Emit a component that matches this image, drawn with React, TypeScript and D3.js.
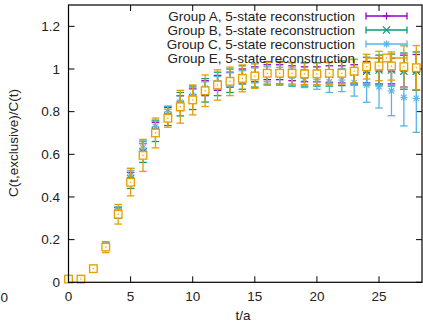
import React from "react";
import * as d3 from "d3";

const tValues = d3.range(0, 29);

const groupA = [0.015, 0.015, 0.065, 0.17, 0.33, 0.49, 0.62, 0.72, 0.79, 0.84, 0.875, 0.91, 0.935, 0.95, 0.965, 0.975, 0.985, 0.985, 0.98, 0.975, 0.975, 0.975, 0.975, 0.975, 0.985, 0.99, 0.99, 0.99, 0.985];
const groupAErr = [0.002, 0.002, 0.004, 0.012, 0.02, 0.025, 0.03, 0.03, 0.03, 0.035, 0.035, 0.035, 0.035, 0.035, 0.035, 0.035, 0.035, 0.035, 0.035, 0.035, 0.035, 0.04, 0.04, 0.045, 0.05, 0.06, 0.06, 0.075, 0.083];

const groupB = [0.015, 0.015, 0.064, 0.168, 0.325, 0.487, 0.612, 0.71, 0.78, 0.835, 0.865, 0.9, 0.93, 0.945, 0.96, 0.97, 0.98, 0.98, 0.975, 0.975, 0.975, 0.975, 0.98, 0.985, 0.99, 0.995, 0.995, 0.99, 0.99];
const groupBErr = [0.002, 0.002, 0.004, 0.015, 0.025, 0.047, 0.05, 0.05, 0.045, 0.055, 0.055, 0.055, 0.055, 0.055, 0.055, 0.055, 0.055, 0.055, 0.055, 0.055, 0.055, 0.055, 0.058, 0.06, 0.065, 0.07, 0.075, 0.085, 0.09];

const groupC = [0.016, 0.016, 0.066, 0.175, 0.34, 0.503, 0.63, 0.73, 0.8, 0.845, 0.875, 0.91, 0.935, 0.95, 0.96, 0.97, 0.975, 0.97, 0.965, 0.955, 0.95, 0.94, 0.948, 0.936, 0.925, 0.917, 0.897, 0.867, 0.862];
const groupCErr = [0.002, 0.002, 0.003, 0.01, 0.015, 0.02, 0.022, 0.025, 0.025, 0.028, 0.03, 0.03, 0.03, 0.032, 0.032, 0.035, 0.035, 0.038, 0.04, 0.042, 0.045, 0.05, 0.054, 0.063, 0.081, 0.1, 0.116, 0.134, 0.159];

const groupE = [0.015, 0.015, 0.064, 0.165, 0.319, 0.469, 0.595, 0.7, 0.769, 0.823, 0.855, 0.898, 0.925, 0.942, 0.956, 0.967, 0.98, 0.98, 0.98, 0.977, 0.977, 0.98, 0.98, 0.99, 1.011, 1.014, 1.014, 1.011, 1.006];
const groupEErr = [0.003, 0.003, 0.006, 0.026, 0.046, 0.064, 0.075, 0.07, 0.042, 0.077, 0.07, 0.074, 0.071, 0.067, 0.063, 0.058, 0.05, 0.05, 0.05, 0.05, 0.05, 0.051, 0.051, 0.055, 0.058, 0.069, 0.066, 0.098, 0.104];

const xTicks = [0, 5, 10, 15, 20, 25];
const yTicks = [0, 0.2, 0.4, 0.6, 0.8, 1, 1.2];
const yTickLabels = ["0", "0.2", "0.4", "0.6", "0.8", "1", "1.2"];

const seriesNames = [
  "Group A, 5-state reconstruction",
  "Group B, 5-state reconstruction",
  "Group C, 5-state reconstruction",
  "Group E, 5-state reconstruction",
];
const seriesColors = ["#9400d3", "#009e73", "#56b4e9", "#e69f00"];
const seriesMarkers = ["plus", "cross", "star", "square"];

const FONT = "'Liberation Sans', Arial, sans-serif";
const FS = 13.5;

function Marker({ x, y, type, color }: { x: number; y: number; type: string; color: string }) {
  const s = 3.6;
  if (type === "plus") {
    return (
      <g stroke={color} strokeWidth={1.2}>
        <line x1={x - s} x2={x + s} y1={y} y2={y} />
        <line x1={x} x2={x} y1={y - s} y2={y + s} />
      </g>
    );
  }
  if (type === "cross") {
    return (
      <g stroke={color} strokeWidth={1.2}>
        <line x1={x - s} x2={x + s} y1={y - s} y2={y + s} />
        <line x1={x - s} x2={x + s} y1={y + s} y2={y - s} />
      </g>
    );
  }
  if (type === "star") {
    return (
      <g stroke={color} strokeWidth={1.1}>
        <line x1={x - s} x2={x + s} y1={y} y2={y} />
        <line x1={x} x2={x} y1={y - s} y2={y + s} />
        <line x1={x - s * 0.75} x2={x + s * 0.75} y1={y - s * 0.75} y2={y + s * 0.75} />
        <line x1={x - s * 0.75} x2={x + s * 0.75} y1={y + s * 0.75} y2={y - s * 0.75} />
      </g>
    );
  }
  return (
    <g>
      <rect x={x - 3.8} y={y - 3.8} width={7.6} height={7.6} fill="#fffaf0" stroke={color} strokeWidth={1.3} />
      <rect x={x - 0.6} y={y - 0.6} width={1.2} height={1.2} fill={color} />
    </g>
  );
}

export default function App() {
  const W = 423;
  const H = 323;
  const x = d3.scaleLinear().domain([0, 28.5]).range([68.5, 422.5]);
  const y = d3.scaleLinear().domain([0, 1.3]).range([282.3, 5]);
  const left = x(0);
  const right = 422;
  const top = y(1.3);
  const bottom = y(0);

  const allSeries = [
    { v: groupA, e: groupAErr },
    { v: groupB, e: groupBErr },
    { v: groupC, e: groupCErr },
    { v: groupE, e: groupEErr },
  ];

  const cap = 3.8;
  const tickLen = 6;
  const legendRowY = [16, 30, 44, 58];
  const legX1 = 366;
  const legX2 = 407;
  const legTextX = 355;

  return (
    <svg width={W} height={H} style={{ position: "absolute", left: 0, top: 0, background: "#fff" }} fontFamily={FONT}>
      <rect x={0} y={0} width={W} height={H} fill="#fff" />
      {yTicks.map((t, i) => (
        <g key={"yt" + i}>
          <line x1={left} x2={left + tickLen} y1={y(t)} y2={y(t)} stroke="#000" strokeWidth={1} />
          <line x1={right} x2={right - tickLen} y1={y(t)} y2={y(t)} stroke="#000" strokeWidth={1} />
          <text x={60} y={y(t)} dy="0.35em" fontSize={FS} textAnchor="end" fill="#222">
            {yTickLabels[i]}
          </text>
        </g>
      ))}
      {xTicks.map((t, i) => (
        <g key={"xt" + i}>
          <line x1={x(t)} x2={x(t)} y1={bottom} y2={bottom - tickLen} stroke="#000" strokeWidth={1} />
          <line x1={x(t)} x2={x(t)} y1={top} y2={top + tickLen} stroke="#000" strokeWidth={1} />
          <text x={x(t)} y={300.5} fontSize={FS} textAnchor="middle" fill="#222">
            {String(t)}
          </text>
        </g>
      ))}
      <text x={0.5} y={302} fontSize={FS} fill="#222">0</text>

      {allSeries.map((s, si) => (
        <g key={"s" + si}>
          {tValues.map((t, i) => {
            const cx = x(t);
            const lo = y(s.v[i] - s.e[i]);
            const hi = y(s.v[i] + s.e[i]);
            const col = seriesColors[si];
            return (
              <g key={i}>
                <line x1={cx} x2={cx} y1={lo} y2={hi} stroke={col} strokeWidth={1.3} />
                <line x1={cx - cap} x2={cx + cap} y1={lo} y2={lo} stroke={col} strokeWidth={1.3} />
                <line x1={cx - cap} x2={cx + cap} y1={hi} y2={hi} stroke={col} strokeWidth={1.3} />
                <Marker x={cx} y={y(s.v[i])} type={seriesMarkers[si]} color={col} />
              </g>
            );
          })}
        </g>
      ))}

      {seriesNames.map((n, i) => {
        const ly = legendRowY[i];
        const col = seriesColors[i];
        return (
          <g key={"l" + i}>
            <text x={legTextX} y={ly} dy="0.35em" fontSize={FS} textAnchor="end" fill="#222">
              {n}
            </text>
            <line x1={legX1} x2={legX2} y1={ly} y2={ly} stroke={col} strokeWidth={1.3} />
            <line x1={legX1} x2={legX1} y1={ly - 3.5} y2={ly + 3.5} stroke={col} strokeWidth={1.3} />
            <line x1={legX2} x2={legX2} y1={ly - 3.5} y2={ly + 3.5} stroke={col} strokeWidth={1.3} />
            <Marker x={(legX1 + legX2) / 2} y={ly} type={seriesMarkers[i]} color={col} />
          </g>
        );
      })}

      <rect x={left} y={top} width={right - left} height={bottom - top} fill="none" stroke="#000" strokeWidth={1.2} />

      <text x={243} y={320} fontSize={FS} textAnchor="middle" fill="#222">t/a</text>
      <text transform={`translate(18,143) rotate(-90)`} fontSize={FS} textAnchor="middle" fill="#222">
        C(t,exclusive)/C(t)
      </text>
    </svg>
  );
}
